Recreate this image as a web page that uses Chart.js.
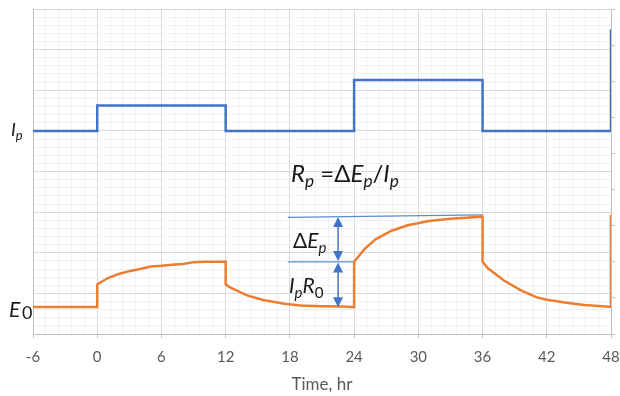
<!DOCTYPE html>
<html>
<head>
<meta charset="utf-8">
<script src="https://cdn.jsdelivr.net/npm/chart.js@4/dist/chart.umd.min.js"></script>
<style>
  body { margin: 0; background: #fff; }
  canvas { display: block; }
</style>
</head>
<body>
<canvas id="myChart" width="620" height="396"></canvas>
<script>
// data: polarisation current (left axis) and electrode potential (right axis)
const ipTime  = [-6, 0, 0, 12, 12, 24, 24, 36, 36, 48, 48];
const ipValue = [5, 5, 5.625, 5.625, 5, 5, 6.25, 6.25, 5, 5, 7.5];

const eTime  = [-6, 0, 0, 1, 2, 3, 4, 5, 6, 7, 8, 9, 10, 12, 12, 12.5, 14, 15.5, 17.5, 19, 21, 23, 24,
                24, 25, 26, 27.5, 29, 31, 33, 36, 36, 36.5, 38, 39.5, 41, 42, 44, 45.5, 47.5, 48, 48];
const eValue = [0.75, 0.75, 1.375, 1.55, 1.66, 1.74, 1.80, 1.87, 1.89, 1.92, 1.94, 1.99, 2.0, 2.0, 1.37, 1.28, 1.07, 0.94, 0.84, 0.79, 0.77, 0.76, 0.74,
                2.0, 2.36, 2.62, 2.86, 3.01, 3.13, 3.19, 3.25, 2.0, 1.82, 1.48, 1.22, 1.02, 0.95, 0.86, 0.80, 0.76, 0.75, 3.3];

// guide lines for the ΔEp construction (right axis)
const upperGuideTime  = [17.8, 36];
const upperGuideValue = [3.23, 3.30];
const lowerGuideTime  = [17.8, 24];
const lowerGuideValue = [2.0, 2.0];

// double arrows: time and [from, to] on the right axis
const arrowTime  = 22.5;
const arrowSpans = [[3.24, 2.02], [1.98, 0.74]];

// axis ticks
const xTicks  = Array.from({ length: 46 }, (_, i) => Math.round((-6 + i * 1.2) * 10) / 10);
const yTicks  = Array.from({ length: 41 }, (_, i) => Math.round(i * 0.2 * 10) / 10);
const y2Ticks = [0, 1, 2, 3, 4, 5, 6, 7, 8, 9];

const toPoints = (xs, ys) => xs.map((x, i) => ({ x: x, y: ys[i] }));

const FONT = 'Lato, "Open Sans", sans-serif';
const BLUE = '#4472c4';
const ORANGE = '#ed7d31';
const MAJOR = '#d9d9d9';
const MINOR = '#f0f0f0';

function drawRich(ctx, x, y, runs, size) {
  let cx = x;
  runs.forEach(([txt, kind]) => {
    const sub = kind.indexOf('s') >= 0;
    const ital = kind.indexOf('i') >= 0;
    const fs = sub ? size * 0.72 : size;
    ctx.font = (ital ? 'italic ' : '') + fs + 'px ' + FONT;
    ctx.fillText(txt, cx, y + (sub ? size * 0.22 : 0));
    cx += ctx.measureText(txt).width;
  });
}

const notes = {
  id: 'notes',
  afterDatasetsDraw(chart) {
    const ctx = chart.ctx;
    const xs = chart.scales.x;
    const ys = chart.scales.y2;

    // arrows
    ctx.save();
    ctx.strokeStyle = BLUE;
    ctx.fillStyle = BLUE;
    ctx.lineWidth = 1.5;
    const ax = xs.getPixelForValue(arrowTime);
    arrowSpans.forEach(([a, b]) => {
      const ya = ys.getPixelForValue(a);
      const yb = ys.getPixelForValue(b);
      ctx.beginPath();
      ctx.moveTo(ax, ya + 8);
      ctx.lineTo(ax, yb - 8);
      ctx.stroke();
      [[ya, 1], [yb, -1]].forEach(([tip, dir]) => {
        ctx.beginPath();
        ctx.moveTo(ax, tip);
        ctx.lineTo(ax - 5, tip + dir * 10);
        ctx.lineTo(ax + 5, tip + dir * 10);
        ctx.closePath();
        ctx.fill();
      });
    });
    ctx.restore();

    // labels
    ctx.save();
    ctx.fillStyle = '#1a1a1a';
    ctx.textBaseline = 'alphabetic';
    ctx.textAlign = 'left';
    drawRich(ctx, 11, 136, [['I', 'i'], ['p', 'is']], 18);
    drawRich(ctx, 9, 317, [['E', 'i']], 21);
    drawRich(ctx, 22, 319, [['0', '']], 18);
    drawRich(ctx, 291, 182, [['R', 'i'], ['p', 'is'], [' =Δ', ''], ['E', 'i'], ['p', 'is'], ['/', ''], ['I', 'i'], ['p', 'is']], 24);
    drawRich(ctx, 293, 248, [['Δ', ''], ['E', 'i'], ['p', 'is']], 21);
    drawRich(ctx, 289, 293, [['I', 'i'], ['p', 'is'], ['R', 'i'], ['0', 's']], 21);
    ctx.restore();
  }
};

const ctx = document.getElementById('myChart');

new Chart(ctx, {
  type: 'line',
  data: {
    datasets: [
      {
        data: toPoints(ipTime, ipValue),
        yAxisID: 'y',
        borderColor: BLUE,
        borderWidth: 2.5,
        order: 1
      },
      {
        data: toPoints(eTime, eValue),
        yAxisID: 'y2',
        borderColor: ORANGE,
        borderWidth: 2.5,
        order: 0
      },
      {
        data: toPoints(upperGuideTime, upperGuideValue),
        yAxisID: 'y2',
        borderColor: '#5b8bd6',
        borderWidth: 1.25,
        order: 2
      },
      {
        data: toPoints(lowerGuideTime, lowerGuideValue),
        yAxisID: 'y2',
        borderColor: '#5b8bd6',
        borderWidth: 1.25,
        order: 2
      }
    ]
  },
  options: {
    responsive: false,
    animation: false,
    layout: {
      autoPadding: false,
      padding: { top: 9, left: 0, right: 0, bottom: 0 }
    },
    elements: {
      point: { radius: 0 },
      line: { tension: 0, fill: false }
    },
    scales: {
      x: {
        type: 'linear',
        min: -6,
        max: 48,
        afterBuildTicks: (scale) => { scale.ticks = xTicks.map(v => ({ value: v })); },
        afterFit: (scale) => {
          scale.height = 62;
          // keep the end labels from pushing the plot area inwards
          scale.paddingLeft = 0;
          scale.paddingRight = 0;
        },
        border: { color: '#bfbfbf' },
        grid: {
          color: (c) => c.index % 5 === 0 ? MAJOR : MINOR,
          tickColor: (c) => c.index % 5 === 0 ? '#bfbfbf' : 'rgba(0,0,0,0)',
          tickLength: 4
        },
        ticks: {
          autoSkip: false,
          maxRotation: 0,
          padding: 10,
          color: '#595959',
          font: { family: FONT, size: 15 },
          callback: (v) => Math.abs(v / 6 - Math.round(v / 6)) < 1e-6 ? String(Math.round(v)) : ''
        },
        title: {
          display: true,
          text: 'Time, hr',
          color: '#595959',
          font: { family: FONT, size: 17 },
          padding: { top: 0, bottom: 1 }
        }
      },
      y: {
        min: 0,
        max: 8,
        afterBuildTicks: (scale) => { scale.ticks = yTicks.map(v => ({ value: v })); },
        afterFit: (scale) => { scale.width = 33; },
        border: { color: '#bfbfbf' },
        grid: {
          color: (c) => c.index % 5 === 0 ? MAJOR : MINOR,
          drawTicks: false
        },
        ticks: { display: false }
      },
      y2: {
        position: 'right',
        min: 0,
        max: 9,
        afterBuildTicks: (scale) => { scale.ticks = y2Ticks.map(v => ({ value: v })); },
        afterFit: (scale) => { scale.width = 9; },
        border: { color: '#bfbfbf' },
        grid: {
          drawOnChartArea: false,
          color: '#bfbfbf',
          tickLength: 4
        },
        ticks: { display: false }
      }
    },
    plugins: {
      legend: { display: false },
      tooltip: { enabled: false }
    }
  },
  plugins: [notes]
});
</script>
</body>
</html>
